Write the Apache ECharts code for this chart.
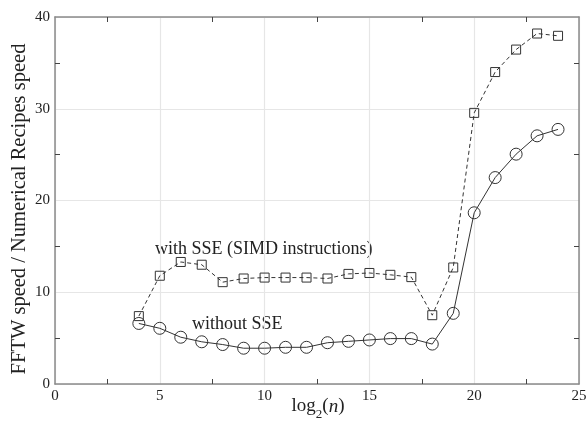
<!DOCTYPE html>
<html><head><meta charset="utf-8">
<script src="https://cdn.jsdelivr.net/npm/echarts@6/dist/echarts.min.js"></script>
<style>html,body{margin:0;padding:0;background:#fff}#c{width:587px;height:424px}</style>
</head><body><div id="c"></div>
<script>
const log2n = [4,5,6,7,8,9,10,11,12,13,14,15,16,17,18,19,20,21,22,23,24];
const withSSE = [7.4,11.8,13.3,13.0,11.1,11.5,11.6,11.6,11.6,11.5,12.0,12.1,11.9,11.65,7.5,12.7,29.55,34.0,36.45,38.2,37.95];
const withoutSSE = [6.6,6.07,5.1,4.6,4.3,3.9,3.9,4.0,4.0,4.5,4.65,4.8,4.95,4.95,4.35,7.7,18.66,22.5,25.05,27.05,27.75];
const xTicks = [0,5,10,15,20,25];
const yTicks = [0,10,20,30,40];

const font = '"Liberation Serif","DejaVu Serif",serif';
const axisCol = '#8a8a8a';
const ink = '#222';

function xAx(pos, show){
  return {type:'value', position:pos, min:0, max:25, interval:5,
    axisLine:{show:true, onZero:false, lineStyle:{color:axisCol, width:1.5}},
    axisTick:{show:false, inside:true},
    minorTick:{show:true, splitNumber:2, length:5, lineStyle:{color:'#444'}},
    splitLine:{show:show, lineStyle:{color:'#e6e6e6', width:1.2}},
    axisLabel:{show:show, color:ink, fontFamily:font, fontSize:15, margin:5,
      formatter:v=>xTicks.includes(v)?String(v):''}};
}
function yAx(pos, show){
  return {type:'value', position:pos, min:0, max:40, interval:10,
    axisLine:{show:true, onZero:false, lineStyle:{color:axisCol, width:1.5}},
    axisTick:{show:false, inside:true},
    minorTick:{show:true, splitNumber:2, length:5, lineStyle:{color:'#444'}},
    splitLine:{show:show, lineStyle:{color:'#e6e6e6', width:1.2}},
    axisLabel:{show:show, color:ink, fontFamily:font, fontSize:15, margin:5,
      formatter:v=>yTicks.includes(v)?String(v):''}};
}

const option = {
  animation:false,
  backgroundColor:'#fff',
  grid:{left:55, right:8, top:17, bottom:40, containLabel:false, outerBoundsMode:'none'},
  xAxis:[xAx('bottom', true), xAx('top', false)],
  yAxis:[yAx('left', true), yAx('right', false)],
  series:[
    {type:'line', name:'with SSE', data:log2n.map((x,i)=>[x,withSSE[i]]),
      symbol:'rect', symbolSize:9,
      lineStyle:{color:'#333', width:1, type:[4,3]},
      itemStyle:{color:'transparent', borderColor:'#333', borderWidth:1}},
    {type:'line', name:'without SSE', data:log2n.map((x,i)=>[x,withoutSSE[i]]),
      symbol:'circle', symbolSize:12,
      lineStyle:{color:'#333', width:1},
      itemStyle:{color:'transparent', borderColor:'#333', borderWidth:1}}
  ],
  graphic:[
    {type:'text', x:20, y:209, rotation:Math.PI/2,
      style:{text:'FFTW speed / Numerical Recipes speed', font:'20.5px '+font, fill:ink, align:'center', verticalAlign:'middle'}},
    {type:'text', x:318, y:416,
      style:{text:'{a|log}{s|2}{a|(}{i|n}{a|)}', align:'center', verticalAlign:'bottom', fill:ink,
        rich:{
          a:{fontFamily:font, fontSize:19, fill:ink, lineHeight:20, verticalAlign:'bottom'},
          i:{fontFamily:font, fontSize:19, fill:ink, fontStyle:'italic', lineHeight:20, verticalAlign:'bottom'},
          s:{fontFamily:font, fontSize:13, fill:ink, lineHeight:20, verticalAlign:'bottom', padding:[0,0,-5,0]}
        }}},
    {type:'text', left:155, top:240, style:{text:'with SSE (SIMD instructions)', font:'18px '+font, fill:ink}},
    {type:'text', left:192, top:315, style:{text:'without SSE', font:'18px '+font, fill:ink}}
  ]
};
echarts.init(document.getElementById('c')).setOption(option);
</script></body></html>
